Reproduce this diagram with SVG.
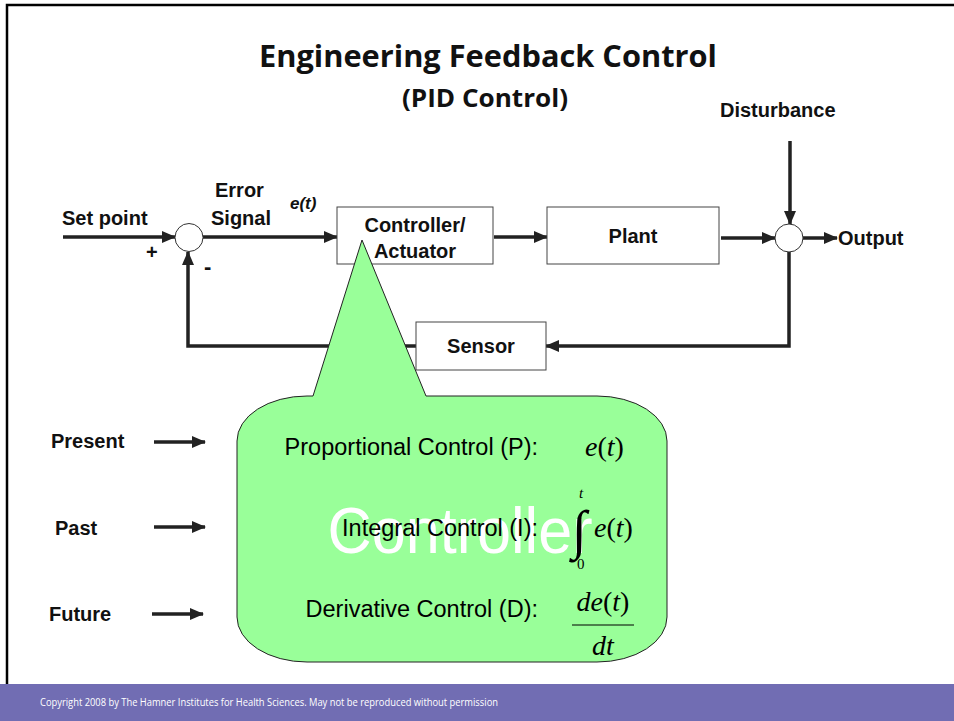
<svg xmlns="http://www.w3.org/2000/svg" width="954" height="721" viewBox="0 0 954 721">
<defs>
<marker id="ah" markerUnits="userSpaceOnUse" markerWidth="14" markerHeight="12" refX="13" refY="6" orient="auto">
<path d="M0,0 L14,6 L0,12 Z" fill="#222"/>
</marker>
<style>
.b{font-family:"Liberation Sans",Arial,sans-serif;font-weight:bold;fill:#111}
.n{font-family:"Liberation Sans",Arial,sans-serif;fill:#000}
.m{font-family:"Liberation Serif","Times New Roman",serif;fill:#000}
.box{fill:#fff;stroke:#444;stroke-width:1}
.ln{fill:none;stroke:#222;stroke-width:3.5}
.sum{fill:#fff;stroke:#333;stroke-width:1}
</style>
</defs>
<rect x="0" y="0" width="954" height="721" fill="#fff"/>
<path d="M7,684 V5 H954" fill="none" stroke="#000" stroke-width="2.5"/>
<rect x="0" y="684" width="954" height="37" fill="#716DB3"/>
<text x="40" y="706" font-family="'Open Sans',sans-serif" font-size="11" fill="#fff" textLength="458" lengthAdjust="spacingAndGlyphs">Copyright 2008 by The Hamner Institutes for Health Sciences. May not be reproduced without permission</text>

<g id="title">
<text x="488" y="67" text-anchor="middle" font-family="'Open Sans',sans-serif" font-weight="bold" font-size="31" fill="#111" textLength="458" lengthAdjust="spacingAndGlyphs">Engineering Feedback Control</text>
<text x="485" y="107" text-anchor="middle" font-family="'Open Sans',sans-serif" font-weight="bold" font-size="25" fill="#111" textLength="166" lengthAdjust="spacingAndGlyphs">(PID Control)</text>
</g>

<g id="labels">
<text class="b" x="720" y="117" font-size="20">Disturbance</text>
<text class="b" x="62" y="225" font-size="20">Set point</text>
<text class="b" x="215" y="197" font-size="20">Error</text>
<text class="b" x="211" y="225" font-size="20">Signal</text>
<text class="b" x="290" y="209" font-size="17" font-style="italic">e(t)</text>
<text class="b" x="146" y="259" font-size="20">+</text>
<text class="b" x="204" y="274" font-size="22">-</text>
<text class="b" x="838" y="245" font-size="20">Output</text>
</g>

<g id="connectors">
<line class="ln" x1="63" y1="237" x2="175" y2="237" marker-end="url(#ah)"/>
<line class="ln" x1="203" y1="237" x2="337" y2="237" marker-end="url(#ah)"/>
<line class="ln" x1="494" y1="237" x2="547" y2="237" marker-end="url(#ah)"/>
<line class="ln" x1="721" y1="238" x2="775" y2="238" marker-end="url(#ah)"/>
<line class="ln" x1="803" y1="238" x2="837" y2="238" marker-end="url(#ah)"/>
<line class="ln" x1="790" y1="141" x2="790" y2="224" marker-end="url(#ah)"/>
<path class="ln" d="M789,252 V346 H546" marker-end="url(#ah)"/>
<path class="ln" d="M416,346 H188 V252" marker-end="url(#ah)"/>
<line class="ln" x1="154" y1="442" x2="205" y2="442" marker-end="url(#ah)"/>
<line class="ln" x1="154" y1="527" x2="205" y2="527" marker-end="url(#ah)"/>
<line class="ln" x1="152" y1="614" x2="203" y2="614" marker-end="url(#ah)"/>
</g>

<g id="sum1"><circle class="sum" cx="189" cy="237.5" r="14"/></g>
<g id="sum2"><circle class="sum" cx="789" cy="238" r="14"/></g>

<g id="controller">
<rect class="box" x="337" y="207" width="156" height="57"/>
<text class="b" x="415" y="232" font-size="20" text-anchor="middle">Controller/</text>
<text class="b" x="415" y="258" font-size="20" text-anchor="middle">Actuator</text>
</g>
<g id="plant">
<rect class="box" x="547" y="207" width="172" height="57"/>
<text class="b" x="633" y="243" font-size="20" text-anchor="middle">Plant</text>
</g>
<g id="sensor">
<rect class="box" x="416" y="322" width="130" height="48"/>
<text class="b" x="481" y="353" font-size="20" text-anchor="middle">Sensor</text>
</g>

<g id="timeline">
<text class="b" x="51" y="448" font-size="20">Present</text>
<text class="b" x="55" y="535" font-size="20">Past</text>
<text class="b" x="49" y="621" font-size="20">Future</text>
</g>

<g id="callout">
<path d="M362,240 L426,396 H597 A70,45 0 0 1 667,441 V617 A70,45 0 0 1 597,662 H307 A70,45 0 0 1 237,617 V441 A70,45 0 0 1 307,396 H313 Z" fill="#99FF99" stroke="#222" stroke-width="1"/>
<text x="460" y="553" font-family="'Liberation Sans',Arial,sans-serif" font-size="64" fill="#fff" text-anchor="middle" textLength="265" lengthAdjust="spacingAndGlyphs">Controller</text>
<text class="n" x="538" y="455" font-size="23.5" text-anchor="end">Proportional Control (P):</text>
<text class="n" x="538" y="536" font-size="23.5" text-anchor="end">Integral Control (I):</text>
<text class="n" x="538" y="617" font-size="23.5" text-anchor="end">Derivative Control (D):</text>
<text class="m" x="585" y="456" font-size="28"><tspan font-style="italic">e</tspan>(<tspan font-style="italic">t</tspan>)</text>
<text class="m" x="572" y="548" font-size="54">∫</text>
<text class="m" x="579" y="498" font-size="15" font-style="italic">t</text>
<text class="m" x="577" y="569" font-size="15">0</text>
<text class="m" x="594" y="537" font-size="28"><tspan font-style="italic">e</tspan>(<tspan font-style="italic">t</tspan>)</text>
<text class="m" x="603" y="611" font-size="28" text-anchor="middle"><tspan font-style="italic">de</tspan>(<tspan font-style="italic">t</tspan>)</text>
<line x1="572" y1="625" x2="634" y2="625" stroke="#000" stroke-width="1.2"/>
<text class="m" x="603" y="655" font-size="28" text-anchor="middle" font-style="italic">dt</text>
</g>
</svg>
